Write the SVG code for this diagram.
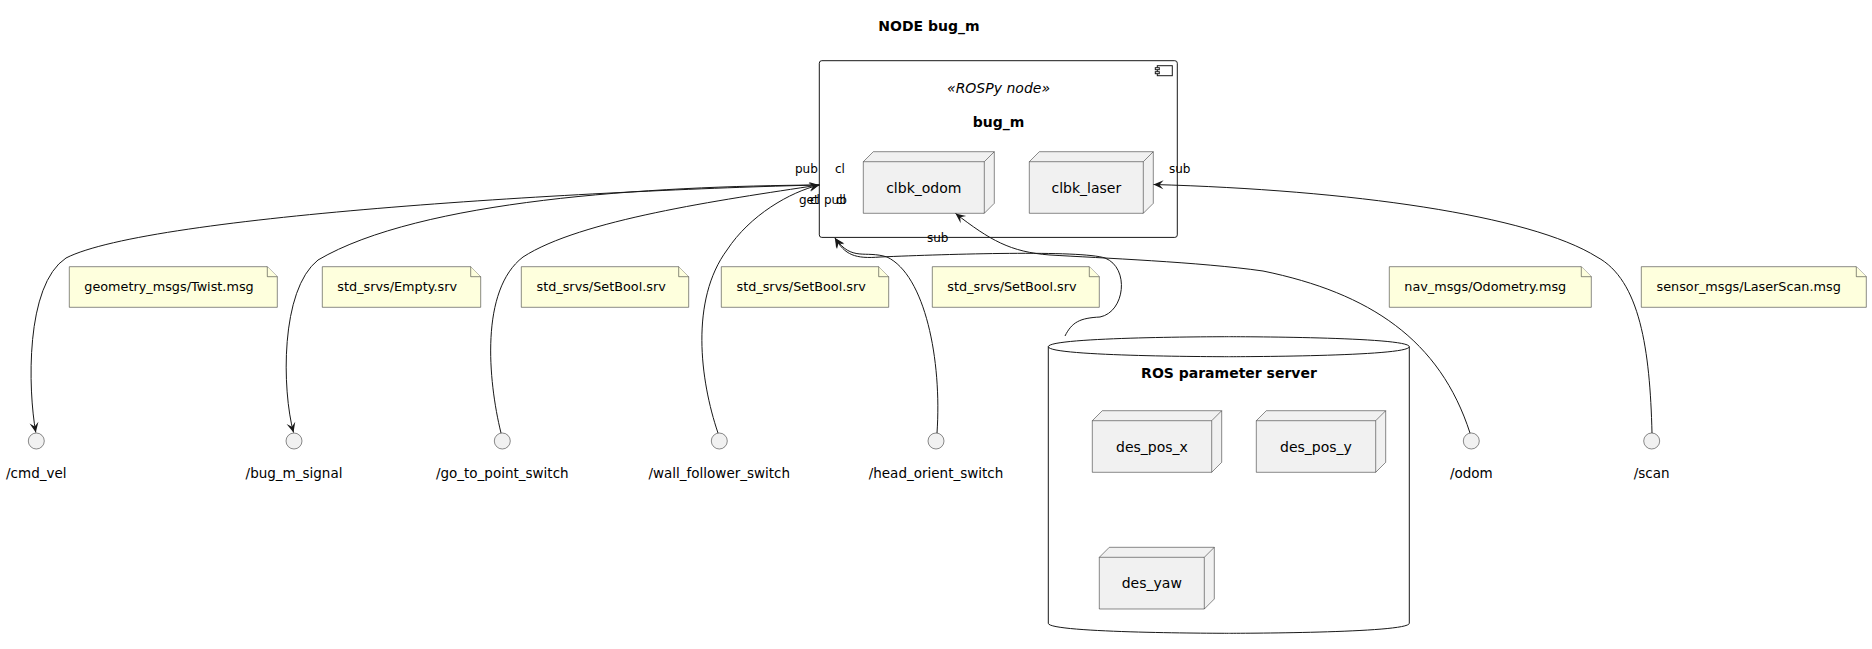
<svg xmlns="http://www.w3.org/2000/svg" width="1872" height="649" viewBox="0 0 1872 649">
<defs>
<style>
text{font-family:"DejaVu Sans","Liberation Sans",sans-serif;fill:#000}
.title{font-size:14px;font-weight:bold}
.nlab{font-size:14px;text-anchor:middle}
.ster{font-size:14px;font-style:italic;text-anchor:middle}
.note{font-size:12.8px}
.clab{font-size:13.5px;text-anchor:middle}
.alab{font-size:12px}
.box3d{fill:#F1F1F1;stroke:#181818;stroke-width:0.5}
.edge3d{fill:none;stroke:#181818;stroke-width:0.5}
.notebg{fill:#FEFFDD;stroke:#181818;stroke-width:0.5}
.fold{fill:#FEFFDD;stroke:#181818;stroke-width:0.5}
.iface{fill:#F1F1F1;stroke:#181818;stroke-width:0.5}
.cont{fill:#FFFFFF;stroke:#181818;stroke-width:1}
.conn{fill:none;stroke:#181818;stroke-width:1}
.arr{marker-end:url(#ah)}
</style>
<marker id="ah" viewBox="-11 -6 12 12" refX="0" refY="0" markerWidth="12" markerHeight="12" orient="auto" markerUnits="userSpaceOnUse">
<path d="M0,0 L-10,-4.5 L-6,0 L-10,4.5 Z" fill="#181818"/>
</marker>
</defs>
<rect width="1872" height="649" fill="#FFFFFF"/>
<text class="title" x="929" y="31" text-anchor="middle">NODE bug_m</text>

<g id="bug_m">
<rect class="cont" x="819.3" y="60.7" width="358" height="176.7" rx="2.5"/>
<rect x="1157.3" y="65.7" width="15" height="10" fill="#FFFFFF" stroke="#181818" stroke-width="1"/>
<rect x="1155.3" y="67.7" width="4" height="2" fill="#FFFFFF" stroke="#181818" stroke-width="1"/>
<rect x="1155.3" y="71.7" width="4" height="2" fill="#FFFFFF" stroke="#181818" stroke-width="1"/>
<text class="ster" x="998.5" y="93">«ROSPy node»</text>
<text class="nlab" x="998.5" y="127" font-weight="bold">bug_m</text>
</g>

<g id="clbk_odom">
<path class="box3d" d="M863.3,161.7 L873.3,151.7 L994.3,151.7 L994.3,203.3 L984.3,213.3 L863.3,213.3 Z"/>
<path class="edge3d" d="M863.3,161.7 L984.3,161.7 L994.3,151.7 M984.3,161.7 L984.3,213.3"/>
<text class="nlab" x="923.8" y="192.5">clbk_odom</text>
</g>

<g id="clbk_laser">
<path class="box3d" d="M1029.3,161.7 L1039.3,151.7 L1153.3,151.7 L1153.3,203.3 L1143.3,213.3 L1029.3,213.3 Z"/>
<path class="edge3d" d="M1029.3,161.7 L1143.3,161.7 L1153.3,151.7 M1143.3,161.7 L1143.3,213.3"/>
<text class="nlab" x="1086.3" y="192.5">clbk_laser</text>
</g>

<g id="ros_param_server">
<path class="cont" d="M1048.3,346.7 C1048.3,336.7 1228.8,336.7 1228.8,336.7 C1228.8,336.7 1409.3,336.7 1409.3,346.7 L1409.3,623.3 C1409.3,633.3 1228.8,633.3 1228.8,633.3 C1228.8,633.3 1048.3,633.3 1048.3,623.3 Z"/>
<path class="conn" d="M1048.3,346.7 C1048.3,356.7 1228.8,356.7 1228.8,356.7 C1228.8,356.7 1409.3,356.7 1409.3,346.7"/>
<text class="nlab" x="1229" y="378" font-weight="bold">ROS parameter server</text>
</g>

<g id="des_pos_x">
<path class="box3d" d="M1092.3,420.7 L1102.3,410.7 L1221.7,410.7 L1221.7,462.3 L1211.7,472.3 L1092.3,472.3 Z"/>
<path class="edge3d" d="M1092.3,420.7 L1211.7,420.7 L1221.7,410.7 M1211.7,420.7 L1211.7,472.3"/>
<text class="nlab" x="1152" y="451.5">des_pos_x</text>
</g>

<g id="des_pos_y">
<path class="box3d" d="M1256.3,420.7 L1266.3,410.7 L1385.7,410.7 L1385.7,462.3 L1375.7,472.3 L1256.3,472.3 Z"/>
<path class="edge3d" d="M1256.3,420.7 L1375.7,420.7 L1385.7,410.7 M1375.7,420.7 L1375.7,472.3"/>
<text class="nlab" x="1316" y="451.5">des_pos_y</text>
</g>

<g id="des_yaw">
<path class="box3d" d="M1099.3,557.3 L1109.3,547.3 L1214.3,547.3 L1214.3,599 L1204.3,609 L1099.3,609 Z"/>
<path class="edge3d" d="M1099.3,557.3 L1204.3,557.3 L1214.3,547.3 M1204.3,557.3 L1204.3,609"/>
<text class="nlab" x="1151.8" y="588">des_yaw</text>
</g>

<g id="note_twist">
<path class="notebg" d="M69.3,266.7 L267.3,266.7 L277.3,276.7 L277.3,307.3 L69.3,307.3 Z"/>
<path class="fold" d="M267.3,266.7 L267.3,276.7 L277.3,276.7"/>
<text class="note" x="84.3" y="291">geometry_msgs/Twist.msg</text>
</g>
<g id="note_empty">
<path class="notebg" d="M322.3,266.7 L470.7,266.7 L480.7,276.7 L480.7,307.3 L322.3,307.3 Z"/>
<path class="fold" d="M470.7,266.7 L470.7,276.7 L480.7,276.7"/>
<text class="note" x="337.3" y="291">std_srvs/Empty.srv</text>
</g>
<g id="note_setbool1">
<path class="notebg" d="M521.3,266.7 L678.7,266.7 L688.7,276.7 L688.7,307.3 L521.3,307.3 Z"/>
<path class="fold" d="M678.7,266.7 L678.7,276.7 L688.7,276.7"/>
<text class="note" x="536.5" y="291">std_srvs/SetBool.srv</text>
</g>
<g id="note_setbool2">
<path class="notebg" d="M721.3,266.7 L878.7,266.7 L888.7,276.7 L888.7,307.3 L721.3,307.3 Z"/>
<path class="fold" d="M878.7,266.7 L878.7,276.7 L888.7,276.7"/>
<text class="note" x="736.5" y="291">std_srvs/SetBool.srv</text>
</g>
<g id="note_setbool3">
<path class="notebg" d="M932.3,266.7 L1089.3,266.7 L1099.3,276.7 L1099.3,307.3 L932.3,307.3 Z"/>
<path class="fold" d="M1089.3,266.7 L1089.3,276.7 L1099.3,276.7"/>
<text class="note" x="947.3" y="291">std_srvs/SetBool.srv</text>
</g>
<g id="note_odometry">
<path class="notebg" d="M1389.3,266.7 L1581.3,266.7 L1591.3,276.7 L1591.3,307.3 L1389.3,307.3 Z"/>
<path class="fold" d="M1581.3,266.7 L1581.3,276.7 L1591.3,276.7"/>
<text class="note" x="1404.3" y="291">nav_msgs/Odometry.msg</text>
</g>
<g id="note_laserscan">
<path class="notebg" d="M1641.3,266.7 L1856.3,266.7 L1866.3,276.7 L1866.3,307.3 L1641.3,307.3 Z"/>
<path class="fold" d="M1856.3,266.7 L1856.3,276.7 L1866.3,276.7"/>
<text class="note" x="1656.5" y="291">sensor_msgs/LaserScan.msg</text>
</g>

<g id="cmd_vel">
<circle class="iface" cx="36.3" cy="441" r="8"/>
<text class="clab" x="36.3" y="478">/cmd_vel</text>
</g>
<g id="bug_m_signal">
<circle class="iface" cx="294" cy="441" r="8"/>
<text class="clab" x="294" y="478">/bug_m_signal</text>
</g>
<g id="go_to_point_switch">
<circle class="iface" cx="502.3" cy="441" r="8"/>
<text class="clab" x="502.3" y="478">/go_to_point_switch</text>
</g>
<g id="wall_follower_switch">
<circle class="iface" cx="719.3" cy="441" r="8"/>
<text class="clab" x="719.3" y="478">/wall_follower_switch</text>
</g>
<g id="head_orient_switch">
<circle class="iface" cx="936" cy="441" r="8"/>
<text class="clab" x="936" y="478">/head_orient_switch</text>
</g>
<g id="odom">
<circle class="iface" cx="1471.3" cy="441" r="8"/>
<text class="clab" x="1471.3" y="478">/odom</text>
</g>
<g id="scan">
<circle class="iface" cx="1651.7" cy="441" r="8"/>
<text class="clab" x="1651.7" y="478">/scan</text>
</g>

<g id="connectors">
<path class="conn arr" d="M819.3,185 C600,190 150,215 66,258 C25,285 28,390 35.8,432.5"/>
<path class="conn arr" d="M819.3,185 C650,186 420,200 318,260 C280,290 282,390 293.5,432.5"/>
<path class="conn arr" d="M501,433 C488,380 480,290 523,257 C580,220 720,200 819.3,185"/>
<path class="conn arr" d="M718,433 C700,380 690,300 727,250 C750,215 790,192 819.3,185"/>
<path class="conn arr" d="M937,433 C942,360 925,275 887,257 C865,250 852,262 835,238"/>
<path class="conn arr" d="M1065,336 C1072,322 1080,318 1100,317 C1125,312 1130,268 1105,258 C1080,250 950,254 880,257 C855,259 845,255 835,238"/>
<path class="conn arr" d="M1470,433 C1440,340 1370,293 1263,271 C1200,262 1100,258 1050,255 C1010,252 990,240 955.5,213.5"/>
<path class="conn arr" d="M1652,433 C1650,350 1640,280 1597,257 C1530,215 1350,190 1153.5,184.5"/>
<text class="alab" x="795" y="172.5">pub</text>
<text class="alab" x="835" y="172.5">cl</text>
<text class="alab" x="799" y="204">get</text>
<text class="alab" x="810" y="204">cl</text>
<text class="alab" x="824" y="204">pub</text>
<text class="alab" x="836" y="204">cl</text>
<text class="alab" x="1169" y="172.5">sub</text>
<text class="alab" x="927" y="241.5">sub</text>
</g>
</svg>
